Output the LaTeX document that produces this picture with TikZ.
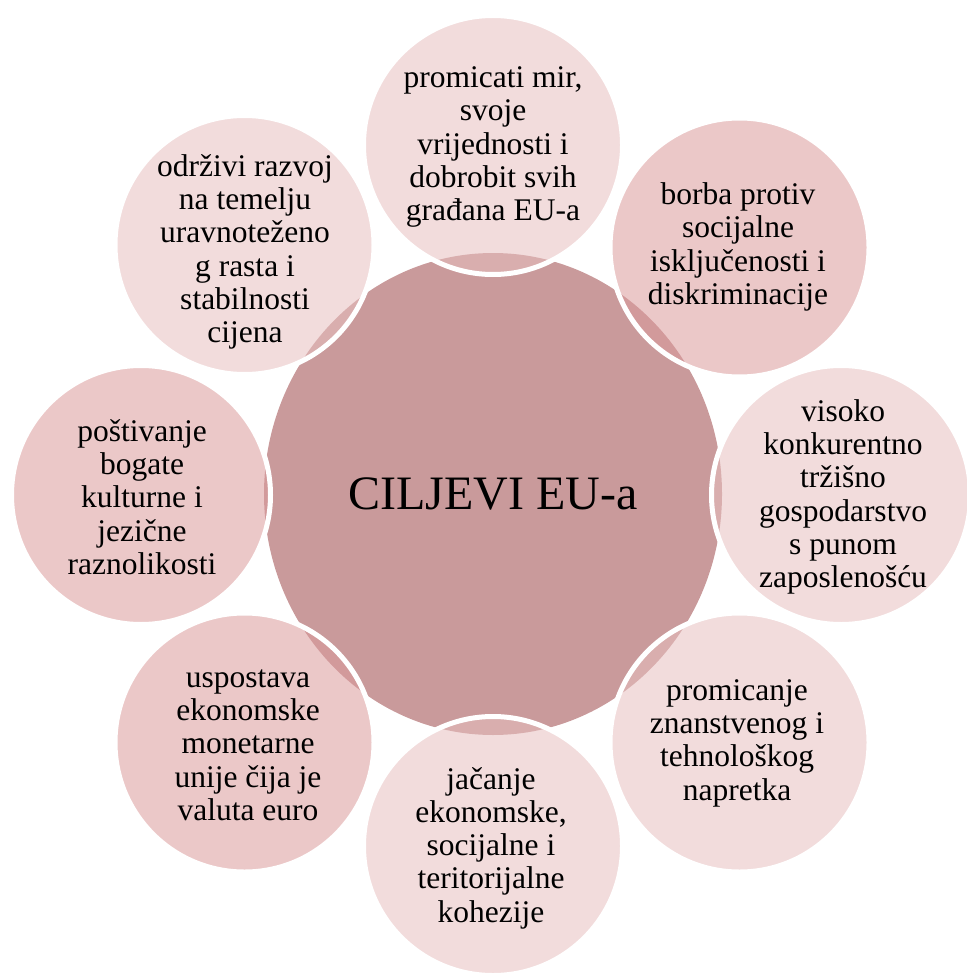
\documentclass[tikz,border=0pt]{standalone}
\usepackage{fontspec}
\setmainfont{Liberation Serif}
\usetikzlibrary{shapes.geometric}
\definecolor{centrefill}{HTML}{C99A9B}
\definecolor{satlight}{HTML}{E7BFBF}
\definecolor{satmed}{HTML}{DB9B9B}
\tikzset{
  sat/.style={circle, minimum size=259pt, inner sep=0pt, fill=#1, fill opacity=0.55, draw=white, draw opacity=1, line width=5pt},
  sattext/.style={align=center, font=\fontsize{31.5pt}{33.3pt}\selectfont, text=black, inner sep=0pt},
  centretext/.style={font=\fontsize{48pt}{56pt}\selectfont, text=black}
}
\begin{document}
\begin{tikzpicture}[x=1pt,y=-1pt]
\useasboundingbox (0,0) rectangle (966,976);
% centre
\node[ellipse, minimum width=458pt, minimum height=482pt, inner sep=0pt, fill=centrefill] (c) at (493,494) {};
% satellites
\node[sat=satlight] (s1) at (493,145) {};
\node[sat=satmed]   (s2) at (739.5,247.5) {};
\node[sat=satlight] (s3) at (841,495) {};
\node[sat=satlight] (s4) at (739.5,742.5) {};
\node[sat=satlight] (s5) at (493,846) {};
\node[sat=satmed]   (s6) at (244.5,742.5) {};
\node[sat=satmed]   (s7) at (141,495) {};
\node[sat=satlight] (s8) at (244.5,245) {};
% texts
\node[centretext] (ct) at (493,494) {CILJEVI EU-a};
\node[sattext] (t1) at (493,147) {promicati mir,\\svoje\\vrijednosti i\\dobrobit svih\\građana EU-a};
\node[sattext] (t2) at (738,247) {borba protiv\\socijalne\\isključenosti i\\diskriminacije};
\node[sattext] (t3) at (843,497) {visoko\\konkurentno\\tržišno\\gospodarstvo\\s punom\\zaposlenošću};
\node[sattext] (t4) at (737,743) {promicanje\\znanstvenog i\\tehnološkog\\napretka};
\node[sattext] (t5) at (491,848) {jačanje\\ekonomske,\\socijalne i\\teritorijalne\\kohezije};
\node[sattext] (t6) at (248,745) {uspostava\\ekonomske\\monetarne\\unije čija je\\valuta euro};
\node[sattext] (t7) at (142,497) {poštivanje\\bogate\\kulturne i\\jezične\\raznolikosti};
\node[sattext] (t8) at (245,252) {održivi razvoj\\na temelju\\uravnoteženo\\g rasta i\\stabilnosti\\cijena};
\end{tikzpicture}
\end{document}
